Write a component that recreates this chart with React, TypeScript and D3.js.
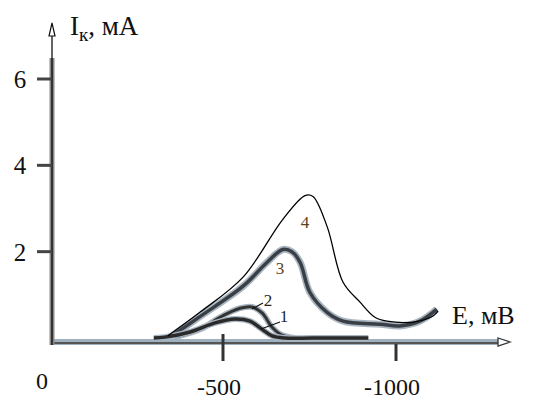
import React from "react";
import * as d3 from "d3";

const W = 557;
const H = 401;

// Potential E (mV) and current I (mA) for each curve
const curve1E = [-300, -332, -405, -477, -535, -578, -613, -642, -679, -760, -920];
const curve1I = [0, 0.02, 0.14, 0.35, 0.44, 0.39, 0.2, 0.05, 0, 0, 0];

const curve2E = [-361, -434, -491, -549, -584, -613, -642, -670, -708];
const curve2I = [0.02, 0.2, 0.48, 0.69, 0.72, 0.58, 0.25, 0.07, 0];

const curve3E = [-347, -434, -558, -627, -673, -699, -723, -751, -800, -847, -954, -1011, -1069, -1118];
const curve3I = [0.02, 0.5, 1.2, 1.75, 2.05, 2.0, 1.75, 1.06, 0.6, 0.39, 0.32, 0.28, 0.39, 0.67];

const curve4E = [-341, -434, -558, -673, -737, -760, -801, -847, -896, -939, -974, -1049, -1107, -1121];
const curve4I = [0.05, 0.6, 1.41, 2.75, 3.3, 3.28, 2.58, 1.29, 0.83, 0.48, 0.39, 0.37, 0.51, 0.62];

const yTicks = [2, 4, 6];
const xTicks = [-500, -1000];
const curveLabels = ["1", "2", "3", "4"];

const serif = "'Liberation Serif', 'DejaVu Serif', 'Times New Roman', serif";

export default function App() {
  const x = d3.scaleLinear().domain([0, -1000]).range([50, 396]);
  const y = d3.scaleLinear().domain([0, 6]).range([338, 79]);
  const axisY = 342;
  const axisX = 52;

  const mk = (E: number[], I: number[]) =>
    d3
      .line<number>()
      .x((_, i) => x(E[i]))
      .y((_, i) => y(I[i]))
      .curve(d3.curveCatmullRom.alpha(0.5))(E.map((_, i) => i)) || "";

  const p1 = mk(curve1E, curve1I);
  const p2 = mk(curve2E, curve2I);
  const p3 = mk(curve3E, curve3I);
  const p4 = mk(curve4E, curve4I);

  const ts = { fontFamily: serif };

  return (
    <svg
      width={W}
      height={H}
      style={{ position: "absolute", left: 0, top: 0, background: "#fff" }}
    >
      {/* x axis */}
      <line x1={axisX} x2={500} y1={axisY} y2={axisY} stroke="#9fb0bf" strokeWidth={6} />
      <line x1={axisX} x2={500} y1={axisY + 1} y2={axisY + 1} stroke="#555" strokeWidth={2} />
      <path d={`M498,${axisY - 4} L510,${axisY} L498,${axisY + 4} Z`} fill="#fff" stroke="#333" strokeWidth={1.3} />
      {/* y axis */}
      <line x1={axisX} x2={axisX} y1={58} y2={axisY + 3} stroke="#888" strokeWidth={5} />
      <line x1={axisX} x2={axisX} y1={58} y2={axisY + 3} stroke="#333" strokeWidth={2} />
      <line x1={axisX} x2={axisX} y1={28} y2={58} stroke="#111" strokeWidth={1.3} />
      <path d={`M${axisX - 3},36 L${axisX},23 L${axisX + 3},36 Z`} fill="#fff" stroke="#111" strokeWidth={1.2} />

      {/* y ticks */}
      {yTicks.map((t) => (
        <g key={t}>
          <line x1={37} x2={axisX} y1={y(t)} y2={y(t)} stroke="#444" strokeWidth={3} />
          <text x={20} y={y(t) + 9} fontSize={25} textAnchor="middle" fill="#111" style={ts}>
            {t}
          </text>
        </g>
      ))}
      {/* x ticks */}
      {xTicks.map((t) => (
        <g key={t}>
          <line x1={x(t)} x2={x(t)} y1={t === -500 ? 334 : 344} y2={361} stroke="#333" strokeWidth={3} />
          <text x={x(t) - 4} y={395} fontSize={24} textAnchor="middle" fill="#111" style={ts}>
            {t}
          </text>
        </g>
      ))}
      <text x={42} y={389} fontSize={24} textAnchor="middle" fill="#111" style={ts}>0</text>

      {/* axis titles */}
      <text x={70} y={35} fontSize={27} fill="#111" style={ts}>
        I<tspan fontSize={19} dy={6}>к</tspan>
        <tspan dy={-6}>, мА</tspan>
      </text>
      <text x={452} y={324} fontSize={26} fill="#111" style={ts}>E, мВ</text>

      {/* curves */}
      <path d={p3} fill="none" stroke="#a9b6c2" strokeWidth={7} strokeLinejoin="round" />
      <path d={p3} fill="none" stroke="#3a3f45" strokeWidth={3.5} strokeLinejoin="round" />
      <path d={p2} fill="none" stroke="#a9b6c2" strokeWidth={6} />
      <path d={p2} fill="none" stroke="#333" strokeWidth={3} />
      <path d={p1} fill="none" stroke="#a9b6c2" strokeWidth={6} />
      <path d={p1} fill="none" stroke="#2a2a2a" strokeWidth={3.5} />
      <path d={p4} fill="none" stroke="#000" strokeWidth={1.3} />

      {/* curve labels */}
      <line x1={263} x2={252} y1={303} y2={309} stroke="#111" strokeWidth={1.2} />
      <line x1={280} x2={261} y1={322} y2={329} stroke="#111" strokeWidth={1.2} />
      <text x={284} y={322} fontSize={17} fill="#1a2a40" textAnchor="middle" style={ts}>{curveLabels[0]}</text>
      <text x={268} y={306} fontSize={17} fill="#2a2418" textAnchor="middle" style={ts}>{curveLabels[1]}</text>
      <text x={280} y={274} fontSize={17} fill="#5a4420" textAnchor="middle" style={ts}>{curveLabels[2]}</text>
      <text x={305} y={228} fontSize={17} fill="#5a4420" textAnchor="middle" style={ts}>{curveLabels[3]}</text>
    </svg>
  );
}
